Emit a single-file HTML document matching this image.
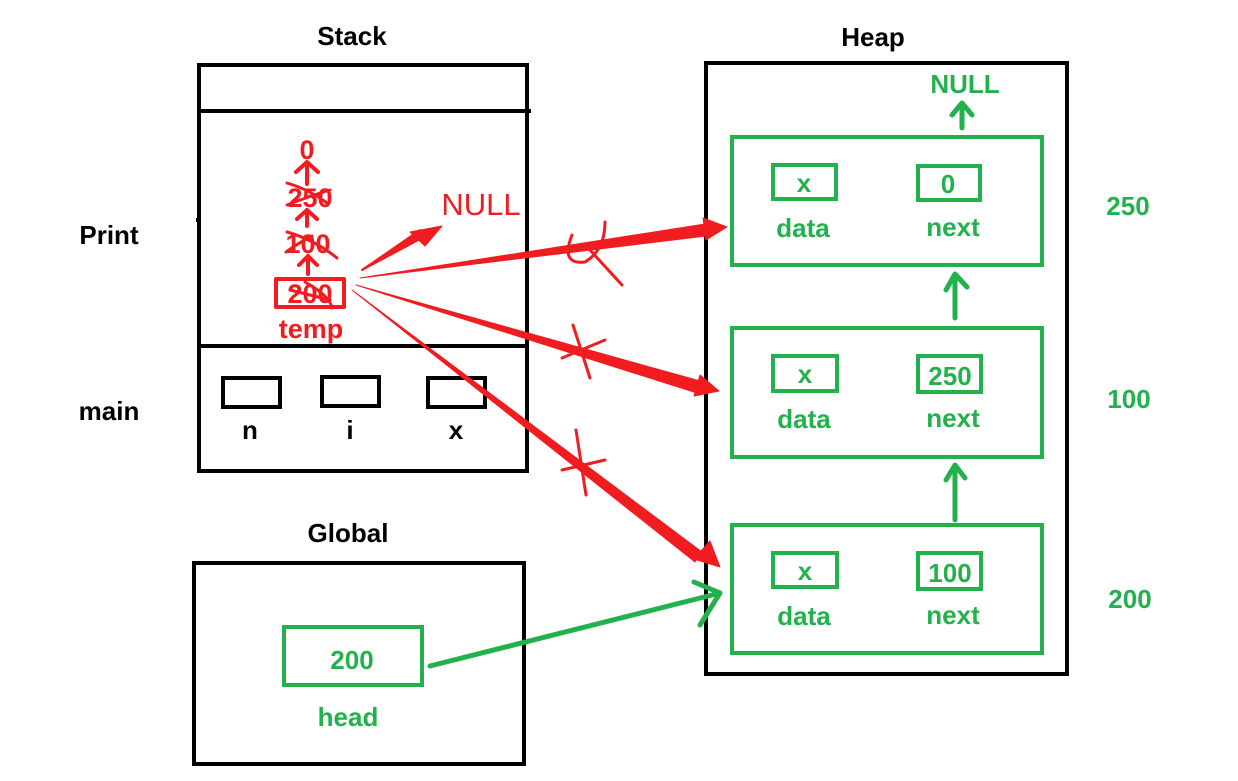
<!DOCTYPE html>
<html><head><meta charset="utf-8"><style>
html,body{margin:0;padding:0;background:#fff;}
svg{display:block;}
text{font-family:"Liberation Sans","DejaVu Sans",sans-serif;font-weight:bold;}
</style></head><body>
<svg width="1238" height="781" viewBox="0 0 1238 781" xmlns="http://www.w3.org/2000/svg">
<g fill="#000" font-size="26" text-anchor="middle">
<text x="352" y="45">Stack</text>
<text x="873" y="46">Heap</text>
<text x="348" y="542">Global</text>
<text x="109" y="244">Print</text>
<text x="109" y="420">main</text>
<text x="250" y="439">n</text>
<text x="350" y="439">i</text>
<text x="456" y="439">x</text>
</g>
<g fill="none" stroke="#000" stroke-width="4">
<rect x="199" y="65" width="328" height="406"/>
<line x1="199" y1="111" x2="531" y2="111"/>
<line x1="199" y1="346" x2="527" y2="346"/>
<line x1="196" y1="220" x2="201" y2="220"/>
<rect x="223" y="378" width="57" height="29"/>
<rect x="322" y="377" width="57" height="29"/>
<rect x="428" y="378" width="57" height="29"/>
<rect x="706" y="63" width="361" height="611"/>
<rect x="194" y="563" width="330" height="201"/>
</g>
<g fill="none" stroke="#22b14c" stroke-width="4">
<rect x="732" y="137" width="310" height="128"/>
<rect x="773" y="165" width="63" height="34"/>
<rect x="918" y="166" width="62" height="34"/>
<rect x="732" y="328" width="310" height="129"/>
<rect x="773" y="356" width="64" height="35"/>
<rect x="918" y="356" width="63" height="36"/>
<rect x="732" y="525" width="310" height="128"/>
<rect x="773" y="553" width="64" height="34"/>
<rect x="918" y="553" width="63" height="36"/>
<rect x="284" y="627" width="138" height="58"/>
</g>
<g fill="none" stroke="#22b14c" stroke-width="5" stroke-linecap="round" stroke-linejoin="round">
<path d="M962 128 L962 104 M952 115 L962 103 L972 115"/>
<path d="M955 318 L955 275 M946 290 L955 274 L967 287"/>
<path d="M955 520 L955 466 M946 480 L955 465 L965 478"/>
<path d="M430 666 L720 593 M694 582 L720 593 L700 625"/>
</g>
<g fill="#22b14c" font-size="26" text-anchor="middle">
<text x="965" y="93">NULL</text>
<text x="804" y="192">x</text>
<text x="948" y="193">0</text>
<text x="803" y="237">data</text>
<text x="953" y="236">next</text>
<text x="805" y="383">x</text>
<text x="950" y="385">250</text>
<text x="804" y="428">data</text>
<text x="953" y="427">next</text>
<text x="805" y="580">x</text>
<text x="950" y="582">100</text>
<text x="804" y="625">data</text>
<text x="953" y="624">next</text>
<text x="1128" y="215">250</text>
<text x="1129" y="408">100</text>
<text x="1130" y="608">200</text>
<text x="352" y="669">200</text>
<text x="348" y="726">head</text>
</g>
<g fill="#f01c20" font-size="27" text-anchor="middle">
<text x="307" y="159">0</text>
<text x="310" y="207">250</text>
<text x="308" y="253">100</text>
<text x="310" y="303">200</text>
<text x="311" y="338">temp</text>
</g>
<text x="481" y="215" fill="#f01c20" font-size="31" text-anchor="middle" style="font-weight:normal">NULL</text>
<g fill="none" stroke="#f01c20" stroke-width="4" stroke-linecap="round" stroke-linejoin="round">
<rect x="276" y="279" width="68" height="28"/>
<path d="M307 184 L307 164 M296 172 L307 162 L318 172"/>
<path d="M307 226 L307 212 M297 219 L307 210 L317 219"/>
<path d="M308 274 L308 258 M299 265 L308 256 L317 265"/>
</g>
<g fill="none" stroke="#f01c20" stroke-width="3" stroke-linecap="round">
<path d="M287 183 Q310 190 327 203 M287 205 Q310 196 330 190"/>
<path d="M287 232 Q315 240 337 258 M286 252 Q300 242 312 236"/>
<path d="M290 290 L330 300 M305 282 Q330 296 332 308"/>
<path d="M572 235 Q560 265 585 262 Q605 250 605 222 M590 250 Q610 272 622 285"/>
<path d="M573 325 L590 378 M562 358 L605 340"/>
<path d="M576 430 L586 495 M562 470 L605 460"/>
</g>
<g fill="#f01c20" stroke="#f01c20" stroke-linejoin="round">
<polygon points="362,270 420,230 424,237" stroke-width="2"/>
<polygon points="442,226 410,232 425,246"/>
<polygon points="360,278 705,224 706,236" stroke-width="1"/>
<polygon points="727,227 703,218 706,240"/>
<polygon points="356,285 700,381 697,393" stroke-width="1"/>
<polygon points="719,391 700,375 694,396"/>
<polygon points="352,290 702,552 695,562" stroke-width="1"/>
<polygon points="720,567 710,541 694,559"/>
</g>
</svg>
</body></html>
